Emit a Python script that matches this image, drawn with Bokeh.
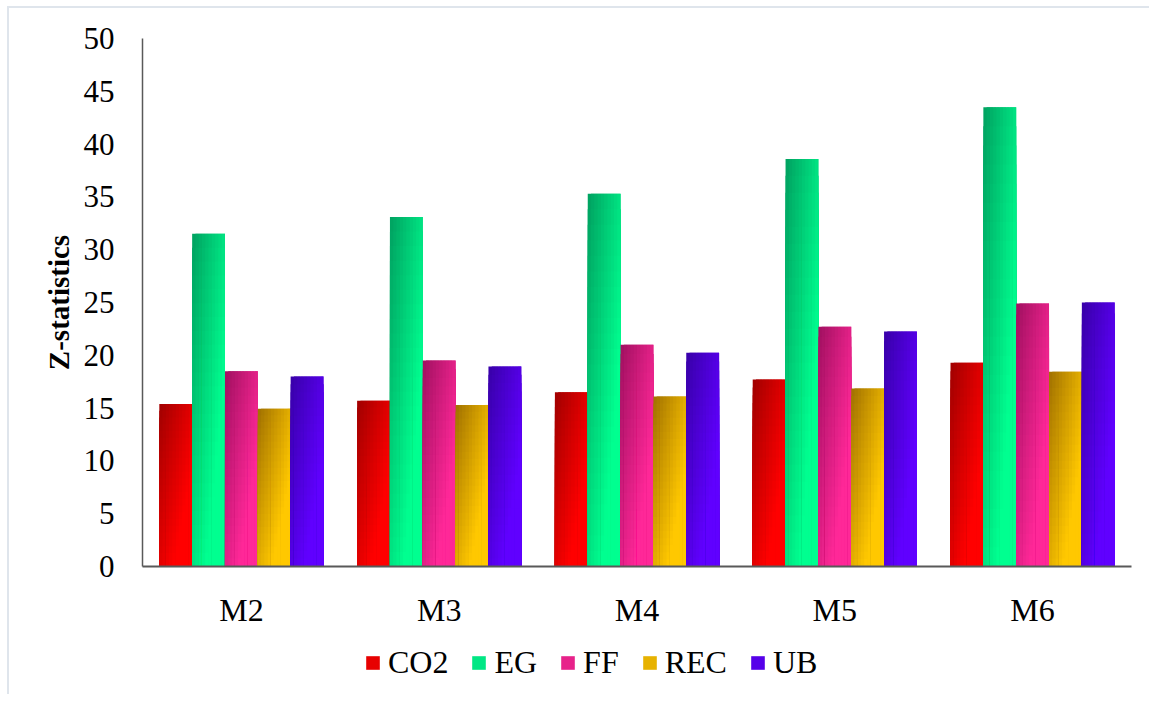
from bokeh.plotting import figure
from bokeh.models import FactorRange, Range1d, ColumnDataSource, Legend, LegendItem, FixedTicker
from bokeh.layouts import column
from bokeh.transform import dodge
from bokeh.embed import file_html
from bokeh.resources import INLINE

categories = ["M2", "M3", "M4", "M5", "M6"]
series_names = ["CO2", "EG", "FF", "REC", "UB"]
co2 = [15.4, 15.7, 16.5, 17.7, 19.3]
eg = [31.5, 33.1, 35.3, 38.6, 43.5]
ff = [18.5, 19.5, 21.0, 22.7, 24.9]
rec = [14.95, 15.3, 16.1, 16.85, 18.45]
ub = [18.0, 18.95, 20.25, 22.25, 25.0]
y_ticks = [0, 5, 10, 15, 20, 25, 30, 35, 40, 45, 50]

series_values = [co2, eg, ff, rec, ub]
dark_colors = [(0xA0, 0x00, 0x00), (0x00, 0xA0, 0x60), (0xA0, 0x10, 0x60), (0xA0, 0x70, 0x00), (0x38, 0x00, 0xA8)]
bright_colors = [(0xFF, 0x00, 0x00), (0x00, 0xFF, 0x90), (0xFF, 0x28, 0x98), (0xFF, 0xC8, 0x00), (0x60, 0x00, 0xFF)]

FONT = "Liberation Serif"

# content origin is (9, 8) once the border/margin of the column is applied
W = 1140
HP, HL = 630, 56
p = figure(x_range=FactorRange(*categories, range_padding=0), y_range=Range1d(0, 50),
           width=W, height=HP, output_backend="svg", toolbar_location=None,
           min_border_left=133, min_border_right=18, min_border_top=30,
           min_border_bottom=HP - (566 - 8))
p.outline_line_color = None
p.xgrid.grid_line_color = None
p.ygrid.grid_line_color = None


def lerp(a, b, t):
    return "#%02x%02x%02x" % tuple(int(round(a[i] + (b[i] - a[i]) * t)) for i in range(3))


# gradient bars: each bar is painted as overlapping layers (left->right, top->bottom),
# so the last layer covering a point gives that point's colour without seams
BAR_W = 0.166
NC, NR = 10, 24
cw = BAR_W / NC
for j, vals in enumerate(series_values):
    center = (j - 2) * BAR_W
    bar_left = center - BAR_W / 2
    bar_right = center + BAR_W / 2
    for c in range(NC):
        u = (c + 0.5) / NC
        col_left = bar_left + c * cw
        col_right = min(bar_right, col_left + 2 * cw)
        off = (col_left + col_right) / 2
        width = col_right - col_left
        xs, tops, cols = [], [], []
        for cat, v in zip(categories, vals):
            for r in range(NR - 1, -1, -1):
                vv = 1 - (r + 0.5) / NR
                t = min(1.0, 0.7 * (u + vv))
                xs.append(cat)
                tops.append(v * (r + 1) / NR)
                cols.append(lerp(dark_colors[j], bright_colors[j], t))
        src = ColumnDataSource(dict(cat=xs, t=tops, c=cols))
        p.vbar(x=dodge("cat", off, range=p.x_range), width=width, bottom=0, top="t",
               fill_color="c", line_color=None, source=src)

p.yaxis.ticker = FixedTicker(ticks=y_ticks)
for ax in (p.xaxis, p.yaxis):
    ax.major_tick_line_color = None
    ax.minor_tick_line_color = None
    ax.major_label_text_font = FONT
    ax.major_label_text_color = "#000000"
p.yaxis.major_label_text_font_size = "31px"
p.xaxis.major_label_text_font_size = "32px"
p.yaxis.axis_line_color = "#595959"
p.yaxis.axis_line_width = 1.5
p.xaxis.axis_line_color = "#595959"
p.xaxis.axis_line_width = 2
p.yaxis.major_label_standoff = 22
p.xaxis.major_label_standoff = 19
p.yaxis.axis_label = "Z-statistics"
p.yaxis.axis_label_text_font = FONT
p.yaxis.axis_label_text_font_style = "bold"
p.yaxis.axis_label_text_font_size = "29px"
p.yaxis.axis_label_text_color = "#000000"
p.yaxis.axis_label_standoff = 6

# legend strip below the chart
q = figure(x_range=Range1d(0, 1), y_range=Range1d(0, 1), width=W, height=HL,
           output_backend="svg", toolbar_location=None, x_axis_type=None, y_axis_type=None,
           min_border=0)
q.outline_line_color = None
q.xgrid.grid_line_color = None
q.ygrid.grid_line_color = None
items = []
for j, name in enumerate(series_names):
    r = q.vbar(x=[0.5], bottom=[0], top=[0], width=0.0,
               fill_color=lerp(dark_colors[j], bright_colors[j], 0.75), line_color=None)
    items.append(LegendItem(label=name, renderers=[r]))
legend = Legend(items=items, orientation="horizontal", location=(222, 13),
                glyph_width=17, glyph_height=17, label_standoff=7, spacing=22,
                padding=0, margin=0, border_line_color=None, background_fill_alpha=0,
                label_text_font=FONT, label_text_font_size="32px", label_text_color="#000000")
q.add_layout(legend)

layout = column(p, q, spacing=0)
layout.styles = {"border-left": "2px solid #dfe5ec", "border-top": "2px solid #dfe5ec",
                 "margin-left": "7px", "margin-top": "6px"}

open("out.html", "w").write(file_html(layout, INLINE))
